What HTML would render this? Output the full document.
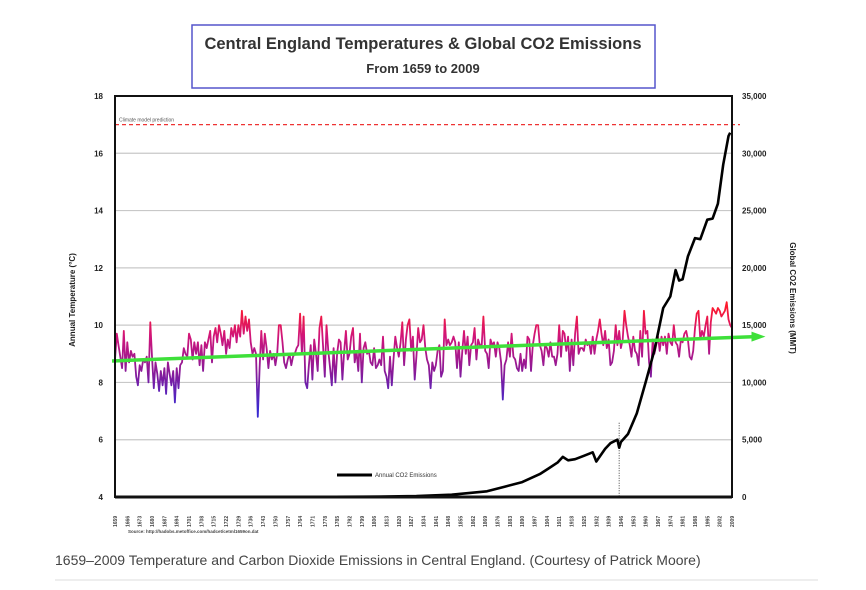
<!DOCTYPE html>
<html><head><meta charset="utf-8"><style>
body{margin:0;background:#fff;width:866px;height:590px;overflow:hidden;font-family:"Liberation Sans",sans-serif}
svg{position:absolute;left:0;top:0}
</style></head><body>
<svg id="c" width="866" height="590" xmlns="http://www.w3.org/2000/svg">
<defs>
<linearGradient id="tg" gradientUnits="userSpaceOnUse" x1="0" y1="305" x2="0" y2="410">
<stop offset="0" stop-color="#ff1a2a"/><stop offset="0.3" stop-color="#d0157a"/><stop offset="0.65" stop-color="#861a9a"/><stop offset="1" stop-color="#3a2ad0"/>
</linearGradient>
</defs>
<rect x="192" y="25" width="463" height="63" fill="#fff" stroke="#5555cc" stroke-width="1.5"/>
<text x="423" y="49" text-anchor="middle" font-size="16.5" font-weight="bold" fill="#333">Central England Temperatures &amp; Global CO2 Emissions</text>
<text x="423" y="73" text-anchor="middle" font-size="13" font-weight="bold" fill="#333">From 1659 to 2009</text>
<g id="grid"></g>
<g id="marks"></g>
<rect x="115" y="96" width="617" height="401" fill="none" stroke="#111" stroke-width="2"/>
<line x1="115" y1="497" x2="732" y2="497" stroke="#111" stroke-width="3"/>
<g id="axes"></g>
<text transform="translate(75,300) rotate(-90)" text-anchor="middle" font-size="8" font-weight="bold" fill="#222">Annual Temperature (°C)</text>
<text transform="translate(790,298) rotate(90)" text-anchor="middle" font-size="8" font-weight="bold" fill="#222">Global CO2 Emissions (MMT)</text>
<line x1="337" y1="475" x2="372" y2="475" stroke="#000" stroke-width="3"/>
<text x="375" y="477" font-size="6" fill="#333">Annual CO2 Emissions</text>
<text x="128" y="533" font-size="4.5" font-weight="bold" fill="#444">Source: http://hadobs.metoffice.com/hadcet/cetml1659on.dat</text>
<text x="55" y="565" font-size="14" fill="#444">1659–2009 Temperature and Carbon Dioxide Emissions in Central England. (Courtesy of Patrick Moore)</text>
<line x1="55" y1="580" x2="818" y2="580" stroke="#ddd" stroke-width="1"/>
</svg>
<script>
const startYear = 1659;
const tempValues = [
8.8,9.7,9.3,8.9,8.5,9.8,8.4,9.4,8.7,9.1,
8.9,9.0,8.2,7.9,8.6,8.4,8.8,8.7,8.9,8.0,
10.1,8.9,7.8,8.7,8.3,7.7,8.4,7.9,8.5,7.6,
8.7,8.3,7.9,8.4,7.3,8.5,7.8,8.6,8.7,9.2,
9.0,8.9,9.7,9.5,8.8,9.4,9.0,9.4,8.6,9.3,
8.4,9.4,9.2,9.5,9.8,8.7,9.6,9.9,9.4,10.0,
9.7,9.3,9.8,9.0,9.5,9.2,9.9,9.6,10.0,9.4,
10.0,9.6,10.5,9.7,10.3,9.8,10.2,9.4,9.0,9.2,
9.0,6.8,8.5,9.8,8.8,9.7,9.2,8.5,9.1,8.8,
9.0,8.6,9.0,10.0,10.0,9.4,8.7,8.5,8.8,9.0,
8.6,8.9,9.0,9.2,9.3,10.4,9.0,10.3,8.0,7.8,
8.6,9.3,8.1,9.5,9.0,8.4,9.9,10.3,9.3,8.2,
10.0,9.1,8.5,7.9,9.2,8.0,9.0,9.5,9.4,8.1,
9.1,9.8,8.8,9.0,9.6,9.9,8.7,9.1,8.4,9.7,
8.0,9.2,9.4,9.0,9.1,8.7,8.6,9.2,8.5,8.6,
8.8,8.6,9.6,8.4,8.2,7.8,8.9,7.9,8.8,9.6,
9.2,8.9,9.4,10.1,8.6,9.5,10.0,10.2,9.1,9.6,
8.1,8.9,9.9,9.4,9.5,10.0,9.2,8.8,8.6,7.8,
8.7,8.4,8.6,9.1,9.3,8.2,8.4,10.2,9.3,9.5,
9.3,9.4,9.6,9.4,8.5,9.4,8.2,9.1,9.8,9.0,
9.6,8.6,9.3,9.4,9.9,8.8,9.5,9.3,9.3,10.3,
9.1,9.0,8.5,9.5,9.3,9.4,8.9,9.4,9.2,8.7,
7.4,8.6,8.8,9.4,8.9,9.7,8.9,8.8,8.5,8.4,
9.0,8.4,8.8,8.5,9.6,9.5,8.4,9.3,9.7,10.0,
10.0,9.3,9.1,8.6,9.3,9.2,8.9,9.4,8.9,8.9,
8.6,9.0,10.0,8.9,9.8,9.7,9.1,9.6,8.4,9.5,
8.6,9.7,10.3,9.0,9.2,9.2,9.1,9.5,9.3,9.4,
9.0,9.6,9.0,9.5,9.8,10.2,9.7,9.3,9.8,9.2,
9.5,8.6,8.7,9.1,10.0,9.3,9.8,9.2,9.5,10.5,
10.0,9.6,9.3,8.9,9.6,9.1,9.0,8.6,9.8,8.9,
10.5,9.7,9.8,8.7,8.2,9.5,9.0,9.3,9.6,9.1,
9.6,9.3,9.6,9.0,9.7,9.4,9.3,10.0,9.4,9.3,
8.9,9.5,9.4,9.7,9.8,9.5,8.9,8.8,9.1,9.9,
10.4,10.5,9.5,9.8,9.6,10.0,10.3,9.0,10.1,10.6,
10.5,10.4,10.6,10.5,10.3,10.4,10.5,10.8,10.2,10.0,
9.9];
const co2Years = [1659,1750,1800,1830,1850,1870,1880,1890,1900,1905,1910,1913,1916,1920,1925,1930,1932,1937,1940,1944,1945,1946,1950,1955,1960,1965,1970,1974,1977,1979,1981,1984,1988,1991,1995,1998,2001,2004,2007,2008];
const co2Values = [0,0,30,80,200,500,900,1300,2000,2500,3000,3500,3200,3300,3600,3900,3100,4200,4700,5000,4300,4800,5500,7300,10000,12800,16500,17500,19800,18900,19000,21000,22600,22500,24200,24300,25600,29000,31500,31800];
const trendStart = 8.75, trendEnd = 9.6, trendEndYear = 2028;
const predictionTemp = 17;
const tempTicks = [4,6,8,10,12,14,16,18];
const co2Ticks = [0,5000,10000,15000,20000,25000,30000,35000];
const co2TickLabels = ["0","5,000","10,000","15,000","20,000","25,000","30,000","35,000"];

const X0=115,X1=732,Y0=96,Y1=497;
const xs = y => X0 + (y-1659)/350*(X1-X0);
const yt = t => Y0 + (18-t)/14*(Y1-Y0);
const yc = v => Y1 - v/35000*(Y1-Y0);
const NS="http://www.w3.org/2000/svg";
function mk(tag, attrs, parent){const e=document.createElementNS(NS,tag);for(const k in attrs)e.setAttribute(k,attrs[k]);parent.appendChild(e);return e;}
const grid=document.getElementById('grid'), marks=document.getElementById('marks'), axes=document.getElementById('axes');

tempTicks.forEach(t=>{
  if(t>4&&t<18){const g=mk('line',{x1:X0,x2:X1,y1:yt(t),y2:yt(t),stroke:'#c8c8c8','stroke-width':1.2},grid);
  
  }
  const l=mk('text',{x:103,y:yt(t)+3,'text-anchor':'end','font-size':8,'font-weight':'bold',fill:'#222'},axes);
  l.textContent=t;
  
  
});
co2Ticks.forEach((v,i)=>{
  const l=mk('text',{x:742,y:yc(v)+3,'font-size':8,'font-weight':'bold',fill:'#222'},axes);
  l.textContent=co2TickLabels[i];
  
  
});
for(let y=1659;y<=2009;y+=7){
  const l=mk('text',{transform:`translate(${xs(y)+2},${527}) rotate(-90)`,'font-size':5,'font-weight':'bold',fill:'#444'},axes);
  l.textContent=y;
  
  
}
const pl=mk('line',{x1:X0,x2:X1+8,y1:yt(predictionTemp),y2:yt(predictionTemp),stroke:'#e33','stroke-width':1.2,'stroke-dasharray':'4,3'},marks);


const pt=mk('text',{x:X0+4,y:yt(predictionTemp)-3,'font-size':5,fill:'#555'},marks);
pt.textContent='Climate model prediction';


const tp=mk('polyline',{points:tempValues.map((t,i)=>xs(startYear+i).toFixed(1)+','+yt(t).toFixed(1)).join(' '),fill:'none',stroke:'url(#tg)','stroke-width':1.8,'stroke-linejoin':'round'},marks);


const i45=co2Years.indexOf(1945);
const dl=mk('line',{x1:xs(1945),x2:xs(1945),y1:yc(co2Values[i45])-25,y2:Y1,stroke:'#444','stroke-width':1,'stroke-dasharray':'1,1.5'},marks);


const cp=mk('polyline',{points:co2Years.map((y,i)=>xs(y).toFixed(1)+','+yc(co2Values[i]).toFixed(1)).join(' '),fill:'none',stroke:'#000','stroke-width':2.6,'stroke-linejoin':'round'},marks);


const tx2=xs(trendEndYear), ty2=yt(trendEnd);
const tl=mk('line',{x1:X0-3,y1:yt(trendStart),x2:tx2-10,y2:ty2,stroke:'#3ee03a','stroke-width':3.5},marks);


const ta=mk('polygon',{points:`${tx2},${ty2} ${tx2-14},${ty2-5} ${tx2-14},${ty2+5}`,fill:'#3ee03a'},marks);


</script>
</body></html>
